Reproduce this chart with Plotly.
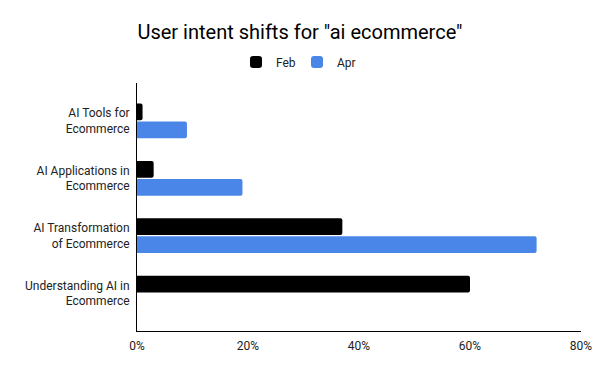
import plotly.graph_objects as go

categories = ["AI Tools for<br>Ecommerce", "AI Applications in<br>Ecommerce",
              "AI Transformation<br>of Ecommerce", "Understanding AI in<br>Ecommerce"]
feb = [0.01, 0.03, 0.37, 0.60]
apr = [0.09, 0.19, 0.72, 0.0]
tick_vals = [0, 0.2, 0.4, 0.6, 0.8]
tick_text = ["0%", "20%", "40%", "60%", "80%"]

W, H = 592, 363   # page body has an 8px margin

fig = go.Figure()
fig.add_trace(go.Bar(y=categories, x=feb, name="Feb", orientation="h",
                     marker=dict(color="#000000", line=dict(width=0))))
fig.add_trace(go.Bar(y=categories, x=apr, name="Apr", orientation="h",
                     marker=dict(color="#4a86e8", line=dict(width=0))))

fig.update_layout(
    template="none",
    width=W, height=H,
    margin=dict(l=129, r=19, t=75, b=40, autoexpand=False),
    paper_bgcolor="white", plot_bgcolor="white",
    font=dict(family="Roboto", size=12, color="#222222"),
    title=dict(text='User intent shifts for "ai ecommerce"', x=292 / W, xanchor="center",
               xref="container", y=1 - 24 / H, yanchor="middle", yref="container",
               font=dict(family="Roboto", size=20, color="#000000")),
    legend=dict(orientation="h", x=289 / W, xanchor="center", xref="container",
                y=1 - 54 / H, yref="container", yanchor="middle",
                font=dict(size=12, color="#222222"),
                traceorder="normal", itemwidth=30, entrywidth=16, entrywidthmode="pixels"),
    barmode="group", bargap=0.373, bargroupgap=0.07, barcornerradius=2,
    showlegend=True,
)
fig.update_xaxes(range=[0, 0.8], tickvals=tick_vals, ticktext=tick_text, automargin=False,
                 showgrid=False, zeroline=False, showline=True, linecolor="#000000",
                 linewidth=1, ticks="", tickfont=dict(size=12, color="#222222"),
                 ticklabelstandoff=4)
fig.update_yaxes(type="category", range=[3.66, -0.66], showgrid=False, zeroline=False,
                 automargin=False,
                 showline=True, linecolor="#000000", linewidth=1, ticks="",
                 tickfont=dict(size=12, color="#222222"), ticklabelstandoff=4)

fig.write_html("out.html")
